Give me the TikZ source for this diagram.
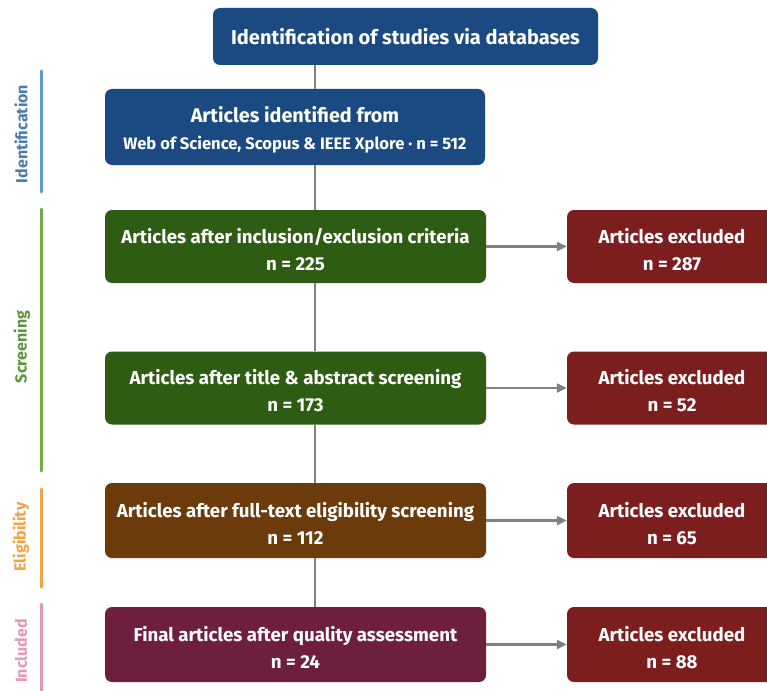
\documentclass[tikz,border=0pt]{standalone}
\usepackage{fontspec}
\setmainfont{Fira Sans}
\usetikzlibrary{arrows.meta,calc}
\definecolor{cblue}{HTML}{1B4A82}
\definecolor{cgreen}{HTML}{2E5C12}
\definecolor{cbrown}{HTML}{6B3B0C}
\definecolor{cpurple}{HTML}{6E1F40}
\definecolor{cred}{HTML}{7C1E1E}
\definecolor{cline}{HTML}{808080}
\definecolor{pblue}{HTML}{5B9BD5}
\definecolor{pgreen}{HTML}{70AD47}
\definecolor{porange}{HTML}{F2A444}
\definecolor{ppink}{HTML}{E597B5}
\newcommand{\topstrutx}{\rule{0pt}{21pt}}
\begin{document}
\begin{tikzpicture}[x=1pt,y=-1pt,
  box/.style={rounded corners=7pt,text=white,align=center,inner sep=0pt,
    font=\bfseries\fontsize{18.7}{27}\selectfont},
  conn/.style={draw=cline,line width=2.2pt},
  arr/.style={conn,-{Triangle[length=10pt,width=9pt]}},
  phase/.style={line width=3pt,line cap=round},
  plabel/.style={rotate=90,font=\bfseries\fontsize{16}{18}\selectfont}]
\useasboundingbox (0,0) rectangle (767,690);
\clip (0,0) rectangle (767,690);
\fill[white] (0,0) rectangle (767,690);
\coordinate (trunk) at (315,0);
% main boxes
\node[box,fill=cblue,minimum width=385pt,minimum height=57pt,
  font=\bfseries\fontsize{20}{24}\selectfont] (top) at (405.5,36.5)
  {Identification of studies via databases};
\node[box,fill=cblue,minimum width=380pt,minimum height=76pt] (id) at (295,127)
  {\fontsize{19.8}{30}\selectfont\topstrutx Articles identified from\\
   \fontsize{16.6}{18}\selectfont Web of Science, Scopus \& IEEE Xplore · n = 512};
\node[box,fill=cgreen,minimum width=381pt,minimum height=73pt] (s1) at (295.5,246.5)
  {\topstrutx Articles after inclusion/exclusion criteria\\n = 225};
\node[box,fill=cgreen,minimum width=381pt,minimum height=73pt] (s2) at (295.5,388)
  {\topstrutx Articles after title \& abstract screening\\n = 173};
\node[box,fill=cbrown,minimum width=381pt,minimum height=75pt] (el) at (295.5,520.5)
  {\topstrutx Articles after full-text eligibility screening\\n = 112};
\node[box,fill=cpurple,minimum width=381pt,minimum height=75pt] (inc) at (295.5,644.5)
  {\topstrutx Final articles after quality assessment\\n = 24};
% excluded boxes
\node[box,fill=cred,minimum width=210pt,minimum height=73pt] (x1) at (672,246.5)
  {\topstrutx Articles excluded\\n = 287};
\node[box,fill=cred,minimum width=210pt,minimum height=73pt] (x2) at (672,388)
  {\topstrutx Articles excluded\\n = 52};
\node[box,fill=cred,minimum width=210pt,minimum height=75pt] (x3) at (672,520.5)
  {\topstrutx Articles excluded\\n = 65};
\node[box,fill=cred,minimum width=210pt,minimum height=75pt] (x4) at (672,644.5)
  {\topstrutx Articles excluded\\n = 88};
% trunk connectors
\draw[conn] (top.south -| trunk) -- (id.north -| trunk);
\draw[conn] (id.south -| trunk) -- (s1.north -| trunk);
\draw[conn] (s1.south -| trunk) -- (s2.north -| trunk);
\draw[conn] (s2.south -| trunk) -- (el.north -| trunk);
\draw[conn] (el.south -| trunk) -- (inc.north -| trunk);
% side arrows
\draw[arr] (s1.east) -- (x1.west);
\draw[arr] (s2.east) -- (x2.west);
\draw[arr] (el.east) -- (x3.west);
\draw[arr] (inc.east) -- (x4.west);
% phase bars
\coordinate (pa1) at (41,71); \coordinate (pa2) at (41,192);
\coordinate (pb1) at (41,209); \coordinate (pb2) at (41,471);
\coordinate (pc1) at (41,489); \coordinate (pc2) at (41,587);
\coordinate (pd1) at (41,604); \coordinate (pd2) at (41,700);
\draw[phase,pblue] (pa1) -- (pa2);
\draw[phase,pgreen] (pb1) -- (pb2);
\draw[phase,porange] (pc1) -- (pc2);
\draw[phase,ppink] (pd1) -- (pd2);
\node[plabel,text=pblue!80!black] (la) at (21,134) {Identification};
\node[plabel,text=pgreen!85!black] (lb) at (22,347) {Screening};
\node[plabel,text=porange] (lc) at (21,537) {Eligibility};
\node[plabel,text=ppink] (ld) at (21,651) {Included};
\end{tikzpicture}
\end{document}
